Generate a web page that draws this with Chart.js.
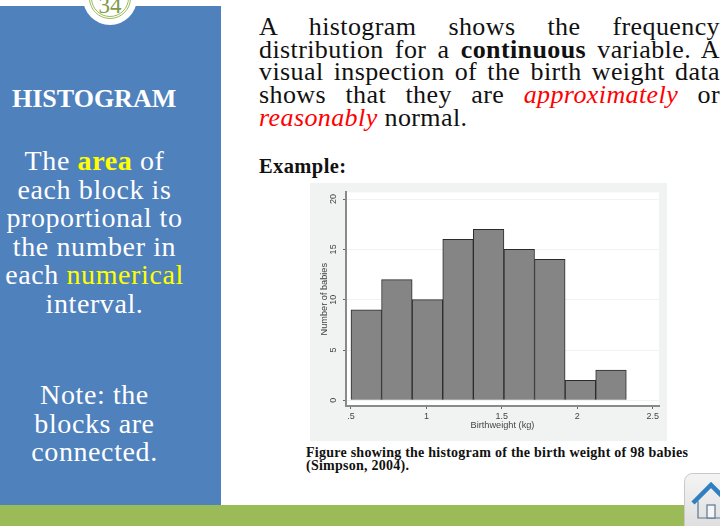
<!DOCTYPE html>
<html>
<head>
<meta charset="utf-8">
<script src="https://cdn.jsdelivr.net/npm/chart.js@4/dist/chart.umd.min.js"></script>
<style>
  html, body { margin: 0; padding: 0; background: #fff; overflow: hidden; }
  body { width: 720px; height: 526px; position: relative; font-family: "Liberation Serif", serif; }
  .abs { position: absolute; white-space: nowrap; }
  #panel { position: absolute; left: 0; top: 6px; width: 221px; height: 499px; background: #4f81bd; }
  #footer { position: absolute; left: 0; top: 505px; width: 720px; height: 21px; background: #9bbb59; }
  #badge { position: absolute; left: 83px; top: -29px; width: 54px; height: 54px; border-radius: 50%; background: #fff; }
  #badge div { position: absolute; left: 8px; top: 8px; width: 36px; height: 36px; border: 1px solid #9bbb59; border-radius: 50%; outline: 1px solid #9bbb59; outline-offset: 1px; color: #7f9a48; font-size: 23px; text-align: center; line-height: 51px; }
  .side { position: absolute; left: 0; width: 189px; text-align: center; color: #fff; font-size: 28px; letter-spacing: 0.6px; line-height: 28.6px; }
  .yl { color: #ffff00; }
  .line { position: absolute; left: 259px; width: 461px; font-size: 26px; letter-spacing: 0.4px; line-height: 24px; color: #111; text-align: justify; text-align-last: justify; white-space: nowrap; }
  .red { color: #ff0000; font-style: italic; }
  #plot { position: absolute; left: 310px; top: 183px; background: #f1f3f3; }
  #home { position: absolute; left: 684px; top: 473px; }
</style>
</head>
<body>
<div id="footer"></div>
<div id="panel"></div>
<div id="badge"><div>34</div></div>

<div class="abs" style="left:12px;top:84px;color:#fff;font-weight:bold;font-size:26px;line-height:30px">HISTOGRAM</div>
<div class="side" style="top:147px">The <b class="yl">area</b> of<br>each block is<br>proportional to<br>the number in<br>each <span class="yl">numerical</span><br>interval.</div>
<div class="side" style="top:381px">Note: the<br>blocks are<br>connected.</div>

<div class="line" style="top:15px">A histogram shows the frequency</div>
<div class="line" style="top:38px">distribution for a <b>continuous</b> variable. A</div>
<div class="line" style="top:60px">visual inspection of the birth weight data</div>
<div class="line" style="top:83px">shows that they are <span class="red">approximately</span> or</div>
<div class="line" style="top:106px;text-align-last:left"><span class="red">reasonably</span> normal.</div>
<div class="abs" style="left:259px;top:155px;font-weight:bold;font-size:20.5px;letter-spacing:0.4px;line-height:22px;color:#111">Example:</div>

<canvas id="plot" width="357" height="258"></canvas>

<div class="abs" style="left:306px;top:446px;font-weight:bold;font-size:14px;letter-spacing:0.25px;line-height:13px;color:#111">Figure showing the histogram of the birth weight of 98 babies<br>(Simpson, 2004).</div>

<svg id="home" width="36" height="53" viewBox="0 0 36 53">
  <defs>
    <linearGradient id="tile" x1="0" y1="0" x2="0" y2="1">
      <stop offset="0" stop-color="#f4f4f4"/>
      <stop offset="1" stop-color="#dcdcdc"/>
    </linearGradient>
  </defs>
  <rect x="0.5" y="0.5" width="50" height="60" rx="8" fill="url(#tile)" stroke="#c8c8c8"/>
  <path d="M14 28 V45 H40 V28" fill="none" stroke="#5a7696" stroke-width="1.2"/>
  <path d="M9 30 L27 12 L45 30" fill="none" stroke="#2f7fc1" stroke-width="4.5"/>
  <rect x="23" y="32" width="8" height="13" fill="#f6f6f6" stroke="#5a7696" stroke-width="1.2"/>
</svg>

<script>
const binCenters = [0.6014, 0.8042, 1.007, 1.2098, 1.4126, 1.6154, 1.8182, 2.021, 2.2238]
const babyCounts = [9, 12, 10, 16, 17, 15, 14, 2, 3]
const xTicks = [0.5, 1, 1.5, 2, 2.5]
const xTickLabels = ['.5', '1', '1.5', '2', '2.5']
const yTicks = [0, 5, 10, 15, 20]

const axisFont = { family: '"Liberation Sans", Arial, sans-serif', size: 9 }
const titleFont = { family: '"Liberation Sans", Arial, sans-serif', size: 9.2 }

const plotBackground = {
  id: 'plotBackground',
  beforeDraw(chart) {
    const { ctx, chartArea } = chart
    ctx.save()
    ctx.fillStyle = '#ffffff'
    ctx.fillRect(chartArea.left, chartArea.top, chartArea.right - chartArea.left, chartArea.bottom - chartArea.top)
    ctx.restore()
  }
}

new Chart(document.getElementById('plot').getContext('2d'), {
  type: 'bar',
  data: {
    datasets: [{
      data: binCenters.map((x, i) => ({ x, y: babyCounts[i] })),
      backgroundColor: '#858585',
      borderColor: '#2b2b2b',
      borderWidth: 1,
      barPercentage: 1,
      categoryPercentage: 1
    }]
  },
  plugins: [plotBackground],
  options: {
    responsive: false,
    animation: false,
    devicePixelRatio: 1,
    layout: { padding: { top: 7, right: 8, left: 0, bottom: 0 } },
    plugins: { legend: { display: false }, tooltip: { enabled: false } },
    scales: {
      x: {
        type: 'linear',
        offset: false,
        min: 0.467,
        max: 2.542,
        afterBuildTicks: scale => { scale.ticks = xTicks.map(value => ({ value })) },
        afterFit: scale => { scale.height = 35 },
        // bar charts default to offset grid lines, which would put the tick marks between the labels
        grid: { offset: false, drawOnChartArea: false, tickColor: '#666', tickLength: 3 },
        border: { color: '#8a8a8a', width: 2 },
        ticks: {
          autoSkip: false,
          maxRotation: 0,
          color: '#444',
          font: axisFont,
          padding: 2,
          callback: value => xTickLabels[xTicks.indexOf(value)]
        },
        title: { display: true, text: 'Birthweight (kg)', color: '#444', font: titleFont, padding: { top: 0, bottom: 10 } }
      },
      y: {
        min: -0.56,
        max: 20.66,
        afterBuildTicks: scale => { scale.ticks = yTicks.map(value => ({ value })) },
        afterFit: scale => { scale.width = 36 },
        grid: {
          color: '#eef3f4',
          lineWidth: 1,
          tickColor: '#666',
          tickLength: 3
        },
        border: { color: '#8a8a8a', width: 2 },
        ticks: {
          autoSkip: false,
          minRotation: 90,
          maxRotation: 90,
          crossAlign: 'center',
          color: '#444',
          font: axisFont,
          padding: 4
        },
        title: { display: true, text: 'Number of babies', color: '#444', font: titleFont, padding: { top: 9, bottom: 0 } }
      }
    }
  }
})
</script>
</body>
</html>
